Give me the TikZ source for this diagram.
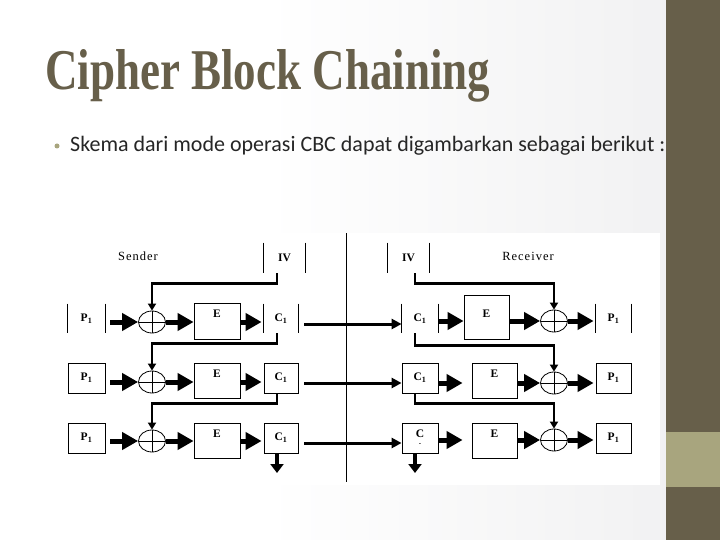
\documentclass[tikz,border=0pt]{standalone}
\usepackage{fontspec}
\setmainfont{Liberation Serif}
\newfontfamily\bodyfont{Carlito}
\usetikzlibrary{arrows.meta,shapes.geometric,calc}
\definecolor{olive}{RGB}{103,95,74}
\definecolor{lolive}{RGB}{168,165,126}
\definecolor{bggray}{RGB}{230,230,232}
\definecolor{txt}{RGB}{38,38,38}
\pgfdeclarehorizontalshading{slidebg}{100bp}{color(0bp)=(white); color(45bp)=(white); color(100bp)=(bggray)}
\begin{document}
\begin{tikzpicture}[x=1pt,y=-1pt,
  lbl/.style={inner sep=0pt, font=\fontsize{11.5}{12}\selectfont\bfseries},
  box/.style={draw, line width=0.8pt, inner sep=0pt, minimum height=30pt, font=\fontsize{11.5}{12}\selectfont\bfseries},
  barbox/.style={box, draw=none},
  ebox/.style={draw, line width=0.8pt, inner sep=0pt, minimum width=46pt, minimum height=35pt},
  xorn/.style={ellipse, draw, line width=0.8pt, minimum width=27pt, minimum height=22pt, inner sep=0pt,
     path picture={\draw[line width=0.8pt] (path picture bounding box.north) -- (path picture bounding box.south)
        (path picture bounding box.west) -- (path picture bounding box.east);}},
  bar/.style={line width=0.9pt},
  bigarrow/.style={line width=5pt, -{Triangle[length=16pt,width=17pt]}},
  chainarrow/.style={line width=2.5pt, -{Triangle[length=7pt,width=8pt]}},
  crossarrow/.style={line width=3pt, -{Triangle[length=10pt,width=10pt]}},
  downarrow/.style={line width=4pt, -{Triangle[length=9pt,width=13pt]}},
  side/.style={inner sep=0pt, font=\fontsize{12.5}{14}\selectfont\addfontfeature{LetterSpace=8}}
]
\useasboundingbox (0,0) rectangle (720,540);
% slide background
\shade[shading=slidebg] (0,0) rectangle (666,540);
\fill[white] (62,233) rectangle (660,485);

% title and bullet
\node[anchor=base west, text=olive, inner sep=0pt] (title) at (45,90)
  {\resizebox{445pt}{40pt}{\bfseries Cipher Block Chaining}};
\node[circle, fill=lolive, inner sep=0pt, minimum size=5pt] (bul) at (57,146) {};
\node[anchor=base west, inner sep=0pt, text=txt, font=\bodyfont\fontsize{22}{26}\selectfont] (sub) at (70,152)
  {Skema dari mode operasi CBC dapat digambarkan sebagai berikut :};

% ---------- sender ----------
\node[side] (sender) at (138,256) {Sender};
\node[barbox, minimum width=41pt] (siv) at (284.5,258) {IV};
\draw[bar] (siv.north west) -- (siv.south west) (siv.north east) -- (siv.south east);

\node[barbox, minimum width=37pt, minimum height=29pt] (sp1) at (86.5,318.5) {P\textsubscript{1}};
\draw[bar] (sp1.north west) -- (sp1.south west) (sp1.north east) -- (sp1.south east);
\node[box, minimum width=37pt] (sp2) at (86.5,378) {P\textsubscript{1}};
\node[box, minimum width=37pt] (sp3) at (86.5,438) {P\textsubscript{1}};

\node[xorn] (sx1) at (152,322) {};
\node[xorn] (sx2) at (152,382) {};
\node[xorn] (sx3) at (152,441) {};

\node[ebox, minimum height=36pt] (se1) at (217,321) {};
\node[ebox] (se2) at (217,380.5) {};
\node[ebox] (se3) at (217,440.5) {};
\node[lbl, anchor=north] (se1t) at ([yshift=-7pt]se1.north) {E};
\node[lbl, anchor=north] (se2t) at ([yshift=-7pt]se2.north) {E};
\node[lbl, anchor=north] (se3t) at ([yshift=-7pt]se3.north) {E};

\node[barbox, minimum width=34pt, minimum height=29pt] (sc1) at (281,318.5) {C\textsubscript{1}};
\draw[bar] (sc1.north west) -- (sc1.south west) (sc1.north east) -- (sc1.south east);
\node[box, minimum width=34pt] (sc2) at (281,378) {C\textsubscript{1}};
\node[box, minimum width=34pt] (sc3) at (281,438) {C\textsubscript{1}};

\foreach \r in {1,2,3}{
  \draw[bigarrow] ([xshift=5pt]sp\r.east |- sx\r) -- (sx\r.west);
  \draw[bigarrow] (sx\r.east) -- (se\r.west |- sx\r);
  \draw[bigarrow] (se\r.east |- sx\r) -- ([xshift=-2pt]sc\r.west |- sx\r);
}
\draw[chainarrow] ([xshift=-7.5pt]siv.south) -- ++(0,10) -| (sx1.north);
\draw[chainarrow] ([xshift=-4pt]sc1.south) -- ++(0,10) -| (sx2.north);
\draw[chainarrow] ([xshift=-4pt]sc2.south) -- ++(0,10) -| (sx3.north);
\coordinate (sout) at (277,473);
\draw[downarrow] ([xshift=-4pt]sc3.south) -- (sout);

% centre line
\coordinate (ctop) at (346,233);
\coordinate (cbot) at (346,482);
\draw[line width=0.9pt] (ctop) -- (cbot);

% ---------- receiver ----------
\node[side] (receiver) at (528,256) {Receiver};
\node[barbox, minimum width=41pt] (riv) at (408.5,258) {IV};
\draw[bar] (riv.north west) -- (riv.south west) (riv.north east) -- (riv.south east);

\node[barbox, minimum width=36pt, minimum height=29pt] (rc1) at (420,318.5) {C\textsubscript{1}};
\draw[bar] (rc1.north west) -- (rc1.south west) (rc1.north east) -- (rc1.south east);
\node[box, minimum width=36pt] (rc2) at (420,378) {C\textsubscript{1}};
\node[box, minimum width=36pt, align=center] (rc3) at (420,438) {C\\[-4pt]{\fontsize{7}{7}\selectfont -}};

\node[ebox, minimum width=45pt, minimum height=44pt] (re1) at (486.5,317) {};
\node[ebox, minimum width=45pt] (re2) at (494.5,380.5) {};
\node[ebox, minimum width=45pt] (re3) at (494.5,440.5) {};
\node[lbl, anchor=north] (re1t) at ([yshift=-15pt]re1.north) {E};
\node[lbl, anchor=north] (re2t) at ([yshift=-7pt]re2.north) {E};
\node[lbl, anchor=north] (re3t) at ([yshift=-7pt]re3.north) {E};

\node[xorn] (rx1) at (554,321) {};
\node[xorn] (rx2) at (554,383) {};
\node[xorn] (rx3) at (554,440) {};

\node[barbox, minimum width=35pt, minimum height=29pt] (rp1) at (613.5,318.5) {P\textsubscript{1}};
\draw[bar] (rp1.north west) -- (rp1.south west) (rp1.north east) -- (rp1.south east);
\node[box, minimum width=35pt] (rp2) at (613.5,378) {P\textsubscript{1}};
\node[box, minimum width=35pt] (rp3) at (613.5,438) {P\textsubscript{1}};

\draw[bigarrow] (rc1.east |- rx1) -- (re1.west |- rx1);
\draw[bigarrow] (rc2.east |- rx2) -- ([xshift=-9pt]re2.west |- rx2);
\draw[bigarrow] (rc3.east |- rx3) -- ([xshift=-9pt]re3.west |- rx3);
\foreach \r in {1,2,3}{
  \draw[bigarrow] (re\r.east |- rx\r) -- (rx\r.west);
  \draw[bigarrow] (rx\r.east) -- ([xshift=-2pt]rp\r.west |- rx\r);
}
\draw[chainarrow] ([xshift=6.5pt]riv.south) -- ++(0,10) -| (rx1.north);
\draw[chainarrow] ([xshift=-5pt]rc1.south) -- ++(0,12) -| (rx2.north);
\draw[chainarrow] ([xshift=-5pt]rc2.south) -- ++(0,10) -| (rx3.north);
\coordinate (rout) at (415,473);
\draw[downarrow] ([xshift=-5pt]rc3.south) -- (rout);

% cross lines
\draw[crossarrow] ([shift={(6,5.5)}]sc1.east) -- ([shift={(0,5.5)}]rc1.west);
\draw[crossarrow] ([shift={(6,5)}]sc2.east) -- ([shift={(0,5)}]rc2.west);
\draw[crossarrow] ([shift={(6,5)}]sc3.east) -- ([shift={(0,5)}]rc3.west);

% right band
\fill[olive] (666,0) rectangle (720,540);
\fill[lolive] (666,432) rectangle (720,487);
\end{tikzpicture}
\end{document}
